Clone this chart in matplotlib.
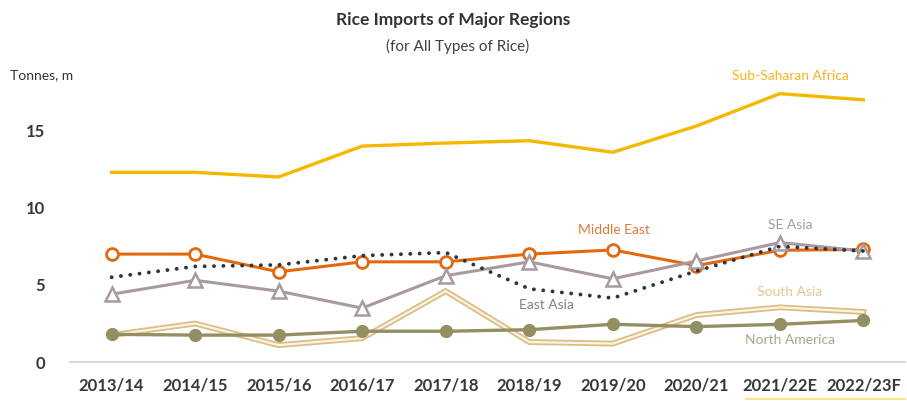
import matplotlib
matplotlib.use("Agg")
import matplotlib.pyplot as plt
from matplotlib.lines import Line2D

plt.rcParams['font.family'] = ['Lato', 'DejaVu Sans']

seasons = ["2013/14", "2014/15", "2015/16", "2016/17", "2017/18",
           "2018/19", "2019/20", "2020/21", "2021/22E", "2022/23F"]

sub_saharan = [12.3, 12.3, 12.0, 14.0, 14.2, 14.35, 13.6, 15.3, 17.4, 17.0]
middle_east = [7.0, 7.0, 5.85, 6.5, 6.5, 7.0, 7.27, 6.25, 7.25, 7.3]
se_asia = [4.4, 5.3, 4.6, 3.5, 5.6, 6.5, 5.4, 6.55, 7.75, 7.2]
east_asia = [5.5, 6.2, 6.3, 6.9, 7.1, 4.75, 4.15, 5.9, 7.5, 7.2]
south_asia = [1.75, 2.5, 1.1, 1.55, 4.6, 1.3, 1.2, 3.05, 3.55, 3.25]
north_america = [1.8, 1.75, 1.75, 2.0, 2.0, 2.1, 2.45, 2.3, 2.45, 2.7]

x = list(range(len(seasons)))

fig = plt.figure(figsize=(9.07, 4.01), dpi=100)
ax = fig.add_axes([0.077, 0.097, 0.921, 0.731])

# double line look for South Asia: tan outer stroke, pale inner stroke
ax.plot(x, south_asia, color="#dcbd84", lw=4.2, solid_joinstyle="miter", zorder=2)
ax.plot(x, south_asia, color="#fbf4e6", lw=1.6, solid_joinstyle="miter", zorder=2.1)

ax.plot(x, north_america, color="#948f62", lw=2.4, marker="o", markersize=8.5,
        markerfacecolor="#948f62", markeredgecolor="#948f62", zorder=3)
ax.plot(x, sub_saharan, color="#f5b800", lw=2.4, zorder=3)
ax.plot(x, middle_east, color="#e2690f", lw=2.2, marker="o", markersize=8.5,
        markerfacecolor="white", markeredgecolor="#e2690f", markeredgewidth=2.0, zorder=4)
ax.plot(x, se_asia, color="#a89a9f", lw=2.2, marker="^", markersize=9.5,
        markerfacecolor="white", markeredgecolor="#a89a9f", markeredgewidth=1.8, zorder=5)
ax.plot(x, east_asia, color="#2a3444", lw=2.8, linestyle=(0, (0.01, 2.4)),
        dash_capstyle="round", zorder=6)

ax.set_xlim(-0.5, 9.5)
ax.set_ylim(0, 19)
ax.set_yticks([0, 5, 10, 15])
ax.set_xticks(x)
ax.set_xticklabels(seasons)
ax.tick_params(axis="y", length=0, pad=18, labelsize=12, labelcolor="#383838")
ax.tick_params(axis="x", length=0, pad=11, labelsize=12, labelcolor="#383838")
for lab in ax.get_yticklabels() + ax.get_xticklabels():
    lab.set_fontweight("bold")

for side in ["top", "right", "left"]:
    ax.spines[side].set_visible(False)
ax.spines["bottom"].set_color("#d0d0d0")
ax.spines["bottom"].set_linewidth(1.2)

# series labels
lab_kw = dict(fontsize=10, ha="center", va="center")
ax.text(8.12, 18.57, "Sub-Saharan Africa", color="#f2b51c", **lab_kw)
ax.text(6.01, 8.57, "Middle East", color="#dd7a3a", **lab_kw)
ax.text(8.12, 8.9, "SE Asia", color="#a29ba6", **lab_kw)
ax.text(5.21, 3.7, "East Asia", color="#857c8c", **lab_kw)
ax.text(8.12, 4.55, "South Asia", color="#e4c58e", **lab_kw)
ax.text(8.12, 1.43, "North America", color="#a8a68a", **lab_kw)

fig.text(0.5, 0.95, "Rice Imports of Major Regions", ha="center", va="center",
         fontsize=12.5, fontweight="bold", color="#333333")
fig.text(0.505, 0.883, "(for All Types of Rice)", ha="center", va="center",
         fontsize=11, color="#404040")
fig.text(0.011, 0.813, "Tonnes, m", ha="left", va="center",
         fontsize=10, color="#333333")

# forecast marker under the last two seasons
fig.add_artist(Line2D([0.822, 0.998], [0.004, 0.004], color="#fbe38a", lw=1.5))

fig.savefig("out.png", dpi=100)
